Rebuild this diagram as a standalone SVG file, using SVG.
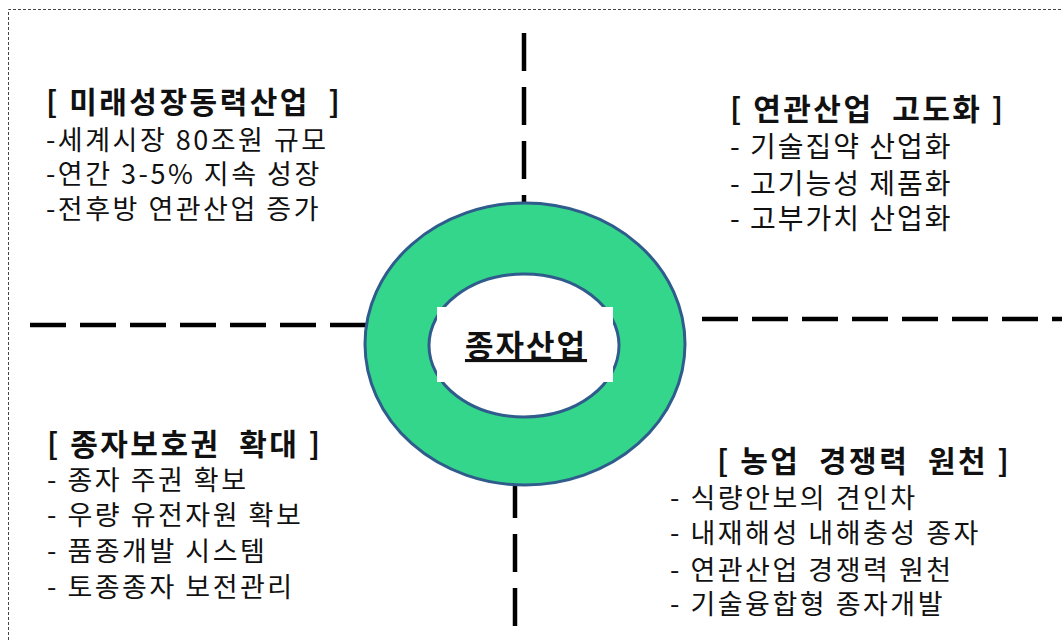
<svg xmlns="http://www.w3.org/2000/svg" width="1062" height="640" viewBox="0 0 1062 640">
<style>
.t{font-family:"Noto Sans CJK KR","Noto Sans",sans-serif;font-size:30px;font-weight:bold;fill:#111;letter-spacing:2.5px}
.b{font-family:"Noto Sans CJK KR","Noto Sans",sans-serif;font-size:27px;fill:#111;letter-spacing:2.5px}
.b2{font-size:28px;letter-spacing:2px}
.dv{stroke:#000;stroke-width:4.5;fill:none;stroke-dasharray:38 16}
.dh{stroke:#000;stroke-width:4.5;fill:none;stroke-dasharray:36 14}
</style>
<rect width="1062" height="640" fill="#fff"/>
<path d="M8.5 640 V9.5 H1062" fill="none" stroke="#444" stroke-width="1" stroke-dasharray="3 2"/>
<g id="connectors">
<line class="dv" x1="524" y1="33" x2="524" y2="205"/>
<line class="dv" x1="515" y1="480" x2="515" y2="640"/>
<line class="dh" x1="30" y1="325" x2="366" y2="325"/>
<line class="dh" x1="702" y1="319" x2="1062" y2="319"/>
</g>
<g id="center">
<ellipse cx="525" cy="344" rx="160" ry="141" fill="#34d68b" stroke="#2f5c8c" stroke-width="3"/>
<ellipse cx="524" cy="345.5" rx="95" ry="71.5" fill="#fff" stroke="#2f5c8c" stroke-width="3"/>
<rect x="437" y="307" width="176" height="75" fill="#fff"/>
<text x="526" y="357" text-anchor="middle" class="t" style="font-size:31px;letter-spacing:2px" text-decoration="underline">종자산업</text>
</g>
<g id="future">
<text x="46" y="113" class="t" xml:space="preserve">[ 미래성장동력산업  ]</text>
<text x="46" y="150" class="b">-세계시장 80조원 규모</text>
<text x="46" y="184" class="b">-연간 3-5% 지속 성장</text>
<text x="46" y="219" class="b">-전후방 연관산업 증가</text>
</g>
<g id="related">
<text x="730" y="120" class="t" xml:space="preserve">[ 연관산업  고도화 ]</text>
<text x="730" y="157" class="b b2">- 기술집약 산업화</text>
<text x="730" y="194" class="b b2">- 고기능성 제품화</text>
<text x="730" y="229" class="b b2">- 고부가치 산업화</text>
</g>
<g id="protect">
<text x="47" y="455" class="t" xml:space="preserve">[ 종자보호권  확대 ]</text>
<text x="47" y="490" class="b">- 종자 주권 확보</text>
<text x="47" y="525" class="b">- 우량 유전자원 확보</text>
<text x="47" y="561" class="b">- 품종개발 시스템</text>
<text x="47" y="597" class="b">- 토종종자 보전관리</text>
</g>
<g id="agri">
<text x="717" y="472" class="t" xml:space="preserve">[ 농업  경쟁력  원천 ]</text>
<text x="670" y="508" class="b">- 식량안보의 견인차</text>
<text x="670" y="543" class="b">- 내재해성 내해충성 종자</text>
<text x="670" y="580" class="b">- 연관산업 경쟁력 원천</text>
<text x="670" y="614" class="b">- 기술융합형 종자개발</text>
</g>
</svg>
